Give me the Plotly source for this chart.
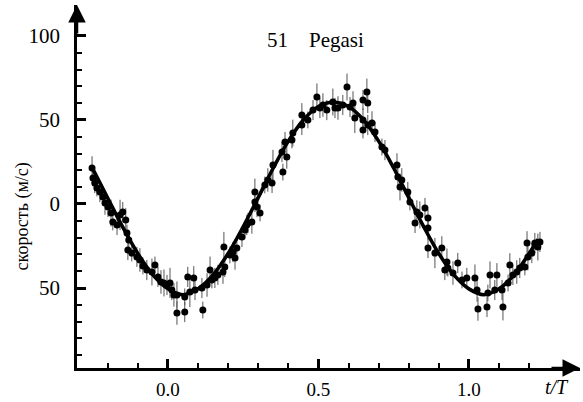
import plotly.graph_objects as go

# ---- data ----
phase = [
    -0.252, -0.249, -0.243, -0.236, -0.226, -0.216, -0.209, -0.199, -0.189, -0.183,
    -0.169, -0.159, -0.150, -0.140, -0.136, -0.130, -0.133, -0.120, -0.103, -0.093,
    -0.083, -0.070, -0.053, -0.043, -0.033, -0.023, -0.013, -0.003, 0.007, 0.013,
    0.020,
    0.030, 0.030, 0.056, 0.056, 0.066, 0.086, 0.073, 0.090, 0.116, 0.113,
    0.130, 0.140, 0.146, 0.156, 0.166, 0.183, 0.189, 0.186, 0.206, 0.216,
    0.229, 0.223, 0.246, 0.256, 0.266,
    0.262, 0.279, 0.306, 0.296, 0.289, 0.289, 0.322, 0.332, 0.346, 0.349,
    0.382, 0.379, 0.395, 0.389, 0.412, 0.415, 0.445, 0.445, 0.465, 0.482,
    0.495, 0.505,
    0.515, 0.528, 0.548, 0.555, 0.565, 0.581, 0.595, 0.605, 0.615, 0.621,
    0.648, 0.661, 0.664, 0.648, 0.648, 0.664, 0.678, 0.688, 0.711, 0.721,
    0.761, 0.764, 0.771, 0.777,
    0.797, 0.804, 0.827, 0.854, 0.837, 0.864, 0.821, 0.864, 0.864, 0.887,
    0.910, 0.927, 0.920, 0.930, 0.963, 0.947, 0.977, 0.993, 1.020, 1.027,
    1.030, 1.060, 1.063, 1.070, 1.086, 1.093, 1.110, 1.113, 1.130, 1.136,
    1.146, 1.159, 1.169, 1.186, 1.196, 1.209, 1.193, 1.219, 1.229, 1.236,
]

velocity = [
    21.4, 15.5, 12.5, 9.5, 7.1, 4.2, 0.6, -1.8, -5.4, -10.7,
    -12.5, -6.5, -4.8, -9.5, -17.3, -21.4, -27.4, -29.2, -31.5, -33.3,
    -36.9, -39.3, -40.5, -36.3, -43.4, -46.4, -47.0, -48.2, -47.0, -51.2,
    -54.1,
    -54.1, -64.9, -64.3, -55.3, -43.4, -44.0, -52.4, -51.2, -63.1, -50.0,
    -48.2, -39.3, -45.2, -44.0, -42.2, -40.5, -37.5, -25.6, -30.3, -28.6,
    -26.2, -32.1, -19.6, -15.5, -11.3,
    -12.5, -10.7, -5.4, -1.8, 1.2, 7.1, 11.3, 14.3, 12.5, 23.2,
    19.0, 30.9, 28.0, 36.9, 38.1, 42.2, 47.0, 53.0, 50.0, 55.9,
    63.7, 57.1,
    58.9, 55.9, 60.7, 57.1, 57.1, 58.9, 69.6, 57.7, 60.1, 51.2,
    61.9, 66.6, 60.1, 50.0, 44.0, 47.0, 48.2, 42.8, 33.9, 32.1,
    23.2, 16.1, 10.1, 14.3,
    7.1, 1.2, -4.8, -2.4, -6.5, -8.3, -11.3, -14.3, -26.2, -29.2,
    -26.2, -34.5, -39.3, -38.1, -35.1, -41.1, -45.2, -44.0, -44.0, -51.2,
    -62.5, -61.3, -53.0, -42.2, -51.2, -42.2, -51.2, -61.3, -47.0, -36.3,
    -42.2, -40.5, -38.1, -37.5, -31.5, -29.2, -23.2, -23.2, -25.6, -22.6,
]

error = [
    7, 5, 6, 5, 6, 5, 7, 6, 8, 5, 6, 9, 6, 7, 5, 6, 6, 5, 6, 7,
    5, 6, 8, 5, 6, 7, 8, 6, 9, 6, 7,
    8, 7, 6, 5, 6, 7, 9, 6, 5, 6, 7, 8, 5, 6, 6, 7, 6, 9, 5, 6,
    6, 7, 6, 5, 6,
    6, 7, 5, 6, 6, 8, 5, 7, 6, 9, 5, 6, 7, 6, 5, 8, 6, 7, 5, 6,
    8, 6,
    7, 6, 8, 6, 7, 6, 8, 6, 7, 9, 6, 8, 6, 7, 5, 6, 7, 6, 5, 6,
    7, 6, 8, 7,
    6, 5, 7, 6, 8, 5, 6, 7, 6, 9, 7, 8, 6, 5, 6, 7, 5, 6, 8, 7,
    7, 6, 5, 8, 6, 7, 6, 8, 5, 7, 6, 7, 6, 5, 8, 6, 7, 6, 8, 6,
]

# fitted curve, read at regular phases
curve_phase = [-0.25, -0.20, -0.15, -0.10, -0.05, 0.00, 0.05, 0.10, 0.15, 0.20,
               0.25, 0.30, 0.35, 0.40, 0.45, 0.50, 0.55, 0.60, 0.65, 0.70,
               0.75, 0.80, 0.85, 0.90, 0.95, 1.00, 1.05, 1.10, 1.15, 1.20, 1.23]
curve_velocity = [21.0, 3.5, -13.8, -29.5, -42.2, -50.5, -54.0, -50.5, -42.2, -29.5,
                  -13.6, 3.8, 21.4, 37.4, 50.0, 58.0, 60.5, 58.0, 50.0, 37.4,
                  21.4, 3.8, -13.6, -29.5, -42.2, -50.5, -54.0, -50.5, -42.2, -29.5,
                  -21.0]

x_major = [0.0, 0.5, 1.0]
x_major_text = ["0.0", "0.5", "1.0"]
x_minor = [-0.2, -0.1, 0.1, 0.2, 0.3, 0.4, 0.6, 0.7, 0.8, 0.9, 1.1, 1.2]
y_major = [-50, 0, 50, 100]
y_major_text = ["50", "0", "50", "100"]
y_minor = [-90, -80, -70, -60, -40, -30, -20, -10, 10, 20, 30, 40, 60, 70, 80, 90]

title_text = "51\u2003Pegasi"
y_title = "скорость (м/с)"
x_title = "<i>t/T</i>"

SERIF = "Liberation Serif, Times New Roman, serif"

fig = go.Figure()
fig.add_trace(go.Scatter(
    x=phase, y=velocity, mode="markers",
    marker=dict(color="black", size=7),
    error_y=dict(type="data", array=error, color="#555555", thickness=1, width=0),
    showlegend=False,
))
fig.add_trace(go.Scatter(
    x=curve_phase, y=curve_velocity, mode="lines",
    line=dict(color="black", width=3.6, shape="spline"),
    showlegend=False,
))

fig.update_layout(
    width=583, height=402,
    margin=dict(l=77, r=3, t=5, b=34, autoexpand=False),
    paper_bgcolor="white", plot_bgcolor="white",
    font=dict(family=SERIF, size=21, color="black"),
    xaxis=dict(
        range=[-0.302, 1.369], showgrid=False, zeroline=False, automargin=False,
        showline=True, linecolor="black", linewidth=2.5,
        tickmode="array", tickvals=x_major, ticktext=x_major_text,
        tickfont=dict(family=SERIF, size=19),
        ticks="inside", ticklen=9, tickwidth=2.5, tickcolor="black",
        ticklabelstandoff=2,
        minor=dict(tickmode="array", tickvals=x_minor, ticks="inside",
                   ticklen=5, tickwidth=2, tickcolor="black"),
    ),
    yaxis=dict(
        range=[-97.6, 118.4], showgrid=False, zeroline=False, automargin=False,
        showline=True, linecolor="black", linewidth=2.5,
        tickmode="array", tickvals=y_major, ticktext=y_major_text,
        ticks="inside", ticklen=9, tickwidth=2.5, tickcolor="black",
        ticklabelstandoff=10,
        minor=dict(tickmode="array", tickvals=y_minor, ticks="inside",
                   ticklen=5, tickwidth=2, tickcolor="black"),
    ),
    annotations=[
        dict(text=title_text, x=0.49, y=97.5, xref="x", yref="y",
             showarrow=False, font=dict(family=SERIF, size=21)),
        dict(text=y_title, x=-0.109, y=0.418, xref="paper", yref="paper",
             textangle=-90, showarrow=False, xanchor="center", yanchor="middle",
             font=dict(family=SERIF, size=18)),
        dict(text=x_title, x=0.954, y=-0.052, xref="paper", yref="paper",
             showarrow=False, xanchor="center", yanchor="middle",
             font=dict(family=SERIF, size=20)),
        dict(text="", x=0, y=1, xref="paper", yref="paper",
             ax=0, ay=30, axref="pixel", ayref="pixel",
             showarrow=True, arrowhead=2, arrowsize=1.4, arrowwidth=2.5,
             arrowcolor="black", standoff=0),
        dict(text="", x=1, y=0, xref="paper", yref="paper",
             ax=-30, ay=0, axref="pixel", ayref="pixel",
             showarrow=True, arrowhead=2, arrowsize=1.4, arrowwidth=2.5,
             arrowcolor="black", standoff=0),
    ],
)

fig.write_html(
    "out.html",
    config={"displayModeBar": False},
    post_script="document.body.style.margin='0';document.body.style.overflow='hidden';",
)
